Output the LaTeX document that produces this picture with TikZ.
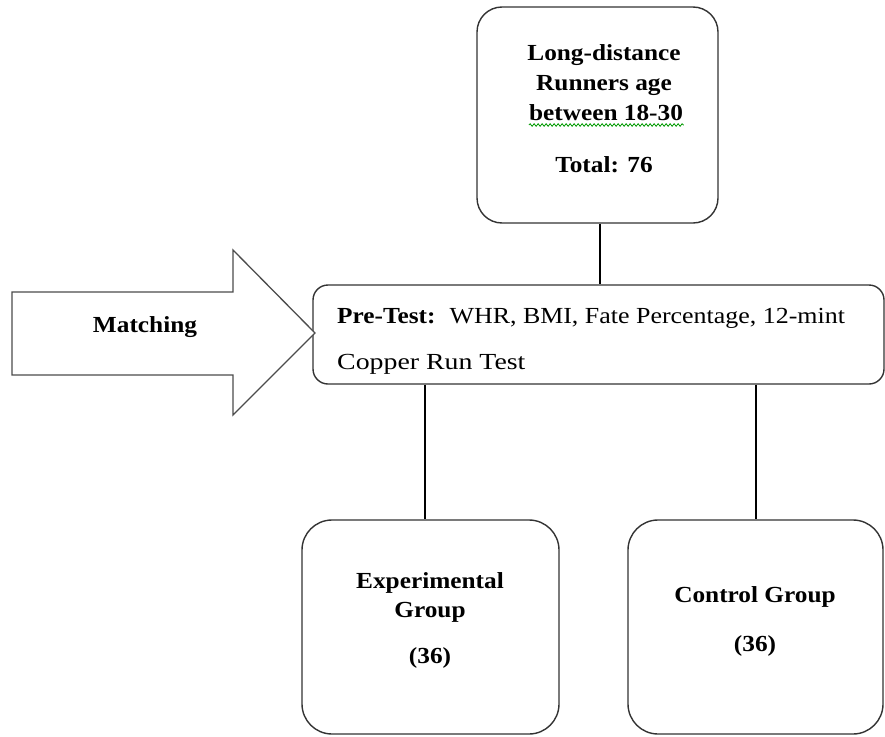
\documentclass[tikz,border=0pt]{standalone}
\usepackage{fontspec}
\setmainfont{Liberation Serif}[FakeStretch=1.1]
\usetikzlibrary{decorations.pathmorphing}
\begin{document}
\begin{tikzpicture}[x=1pt,y=-1pt,
  box/.style={draw=black!80, line width=1.4pt, inner sep=0pt},
  conn/.style={draw=black, line width=2pt},
  txt/.style={font=\fontsize{23}{28}\selectfont, inner sep=0pt, anchor=base},
  btxt/.style={txt, font=\bfseries\fontsize{23}{28}\selectfont}]
\useasboundingbox (0,0) rectangle (885,736);
% boxes
\node[box, rounded corners=25pt, minimum width=241pt, minimum height=216pt] (top) at (597.5,115) {};
\node[box, rounded corners=15pt, minimum width=571pt, minimum height=99pt] (pre) at (598.5,334.5) {};
\node[box, rounded corners=30pt, minimum width=257pt, minimum height=214pt] (exp) at (430.5,627) {};
\node[box, rounded corners=30pt, minimum width=255pt, minimum height=214pt] (ctl) at (755.5,627) {};
% arrow
\draw[draw=black!70, line width=1.3pt, fill=white] (12,292) -- (233,292) -- (233,250) -- (315,333) -- (233,415) -- (233,375) -- (12,375) -- cycle;
% texts
\node[btxt] (t1) at (604,60) {Long-distance};
\node[btxt] (t2) at (604,90) {Runners age};
\node[btxt] (t3) at (606,120) {between 18-30};
\node[btxt] (t4) at (604,172) {Total: 76};
\draw[green!60!black, line width=0.8pt, decorate, decoration={snake, amplitude=1.3pt, segment length=4pt}] (t3.base west) ++(0,5) -- ++(155,0);
\node[btxt] (match) at (145,332) {Matching};
\node[txt, anchor=base west] (p1) at (337,323) {\textbf{Pre-Test:}\hspace{14pt}\scalebox{1.025}[1]{WHR, BMI, Fate Percentage, 12-mint}};
\node[txt, anchor=base west] (p2) at (337,369) {\scalebox{1.1}[1]{Copper Run Test}};
\node[btxt] (e1) at (430,588) {Experimental};
\node[btxt] (e2) at (430,617) {Group};
\node[btxt] (e3) at (430,663) {(36)};
\node[btxt] (c1) at (755,602) {Control Group};
\node[btxt] (c2) at (755,651) {(36)};
% connectors
\draw[conn] ([xshift=2pt]top.south) -- ([xshift=2pt]top.south |- pre.north);
\draw[conn] ([xshift=-6pt]exp.north |- pre.south) -- ([xshift=-6pt]exp.north);
\draw[conn] (ctl.north |- pre.south) -- (ctl.north);
\end{tikzpicture}
\end{document}
